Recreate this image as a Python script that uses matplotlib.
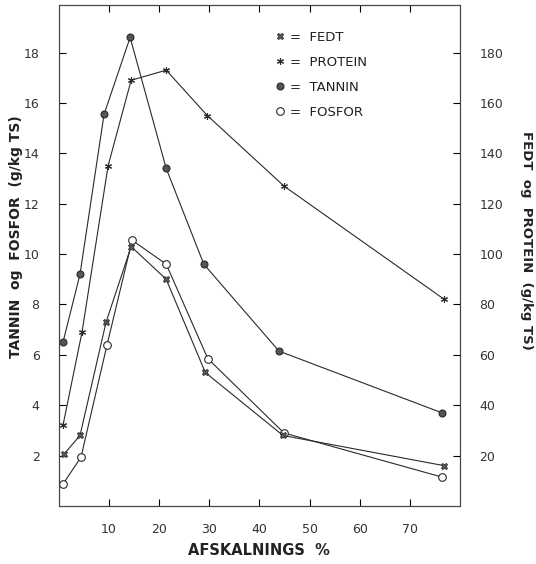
import matplotlib
matplotlib.use('Agg')
import matplotlib.pyplot as plt
from matplotlib.lines import Line2D

# data (left axis: g/kg TS, right axis = 10 x left)
x_fedt = [1.0, 4.2, 9.4, 14.4, 21.4, 29.2, 44.7, 76.9]
fedt = [20.6, 28, 73, 103, 90, 53, 28, 16]          # right axis

x_protein = [0.8, 4.6, 9.8, 14.4, 21.4, 29.6, 44.9, 76.9]
protein = [32, 69, 135, 169, 173, 155, 127, 82]    # right axis

x_tannin = [0.8, 4.2, 9.0, 14.2, 21.4, 28.9, 43.9, 76.4]
tannin = [6.5, 9.2, 15.55, 18.6, 13.4, 9.6, 6.15, 3.7]   # left axis

x_fosfor = [0.8, 4.4, 9.6, 14.6, 21.4, 29.7, 44.9, 76.4]
fosfor = [0.87, 1.94, 6.4, 10.55, 9.6, 5.85, 2.9, 1.15]  # left axis

xticks = [10, 20, 30, 40, 50, 60, 70]
left_ticks = [2, 4, 6, 8, 10, 12, 14, 16, 18]
right_ticks = [20, 40, 60, 80, 100, 120, 140, 160, 180]

ink = '#2a2a2a'
fig = plt.figure(figsize=(5.36, 5.64), dpi=100)
ax = fig.add_axes([0.110, 0.1028, 0.748, 0.888])
ax2 = ax.twinx()

ax.set_xlim(0, 80)
ax.set_ylim(0, 19.88)
ax2.set_ylim(0, 198.8)

lw = 0.8
ax.plot(x_tannin, tannin, color=ink, lw=lw, marker='o', ms=5,
        mfc='#555555', mec=ink, mew=0.8)
ax.plot(x_fosfor, fosfor, color=ink, lw=lw, marker='o', ms=5.5,
        mfc='white', mec=ink, mew=0.8)
ax2.plot(x_fedt, fedt, color=ink, lw=lw, marker='X', ms=4.5,
         mfc='#555555', mec=ink, mew=0.5)
ax2.plot(x_protein, protein, color=ink, lw=lw, marker=(6, 2, 0), ms=5,
         mfc=ink, mec=ink, mew=0.8)

for a in (ax, ax2):
    for s in a.spines.values():
        s.set_linewidth(0.8)
        s.set_color('#444444')

ax.set_xticks(xticks)
ax.set_yticks(left_ticks)
ax2.set_yticks(right_ticks)
ax.tick_params(axis='both', direction='in', length=5, width=0.8,
               labelsize=9, labelcolor='#333333', top=True, pad=12)
ax.tick_params(axis='y', pad=14)
ax2.tick_params(axis='y', direction='in', length=5, width=0.8,
                labelsize=9, labelcolor='#333333', pad=14)

ax.set_xlabel('AFSKALNINGS  %', fontsize=10.5, fontweight='bold',
              color='#222222', labelpad=5)
ax.set_ylabel('TANNIN  og  FOSFOR  (g/kg TS)', fontsize=10, fontweight='bold',
              color='#222222')
ax.yaxis.set_label_coords(-0.09, 0.537)
ax2.set_ylabel('FEDT  og  PROTEIN  (g/kg TS)', fontsize=9.5, fontweight='bold',
               color='#222222', rotation=-90, va='center')
ax2.yaxis.set_label_coords(1.166, 0.531)

handles = [
    Line2D([], [], ls='none', marker='X', ms=4.5, mfc='#555555', mec=ink, mew=0.5),
    Line2D([], [], ls='none', marker=(6, 2, 0), ms=5, mfc=ink, mec=ink, mew=0.8),
    Line2D([], [], ls='none', marker='o', ms=5, mfc='#555555', mec=ink, mew=0.8),
    Line2D([], [], ls='none', marker='o', ms=5.5, mfc='white', mec=ink, mew=0.8),
]
labels = ['=  FEDT', '=  PROTEIN', '=  TANNIN', '=  FOSFOR']
leg = ax.legend(handles, labels, loc='upper left', bbox_to_anchor=(0.508, 0.972),
                frameon=False, handlelength=0.8, handletextpad=0.4,
                labelspacing=0.9, prop={'size': 9.5})
for t in leg.get_texts():
    t.set_color('#222222')

fig.savefig('out.png', dpi=100)
